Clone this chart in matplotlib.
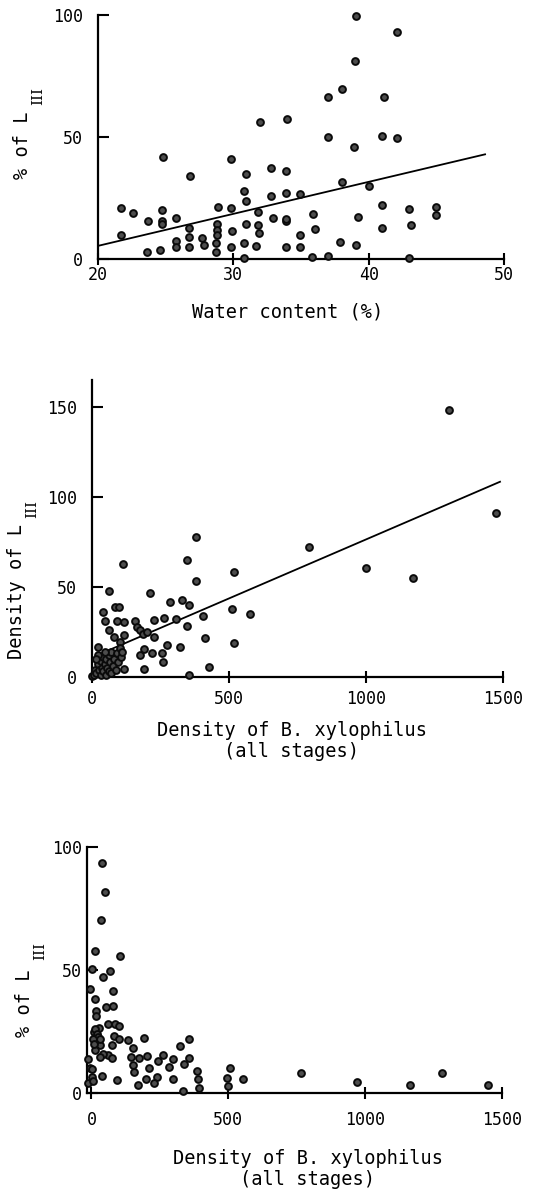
import matplotlib
matplotlib.use("Agg")
import matplotlib.pyplot as plt

plt.rcParams['font.family'] = ['DejaVu Sans Mono', 'DejaVu Sans']

# ---------------- Panel 1: water content vs % of L_III ----------------
water_content = [
    39.1, 42.1, 39.0, 38.0, 37.0, 41.1,
    32.0, 34.0, 37.0, 41.0, 42.1, 38.9,
    24.8, 29.8, 26.8, 30.9, 32.8, 33.9,
    38.0, 40.0, 30.8, 32.8, 33.9, 34.9,
    30.9, 21.7, 22.6, 23.7, 24.7, 24.7,
    24.7, 25.8, 26.7, 26.7, 26.7, 25.8,
    25.8, 23.6, 24.6, 21.7, 27.7, 27.8,
    28.9, 28.8, 28.8, 28.8, 28.7, 28.7,
    29.8, 29.9, 29.8, 30.9, 30.8, 30.8,
    31.8, 31.8, 31.9, 31.7, 32.9, 33.9,
    33.9, 33.9, 34.9, 34.9, 35.9, 36.0,
    35.8, 37.0, 37.9, 39.1, 39.2, 41.0,
    41.0, 43.0, 43.1, 43.0, 45.0, 45.0,
]
pct_L3_water = [
    99.7, 93.2, 81.2, 69.6, 66.6, 66.4,
    56.2, 57.3, 49.9, 50.5, 49.5, 45.8,
    42.0, 41.2, 34.1, 34.9, 37.4, 36.3,
    31.8, 30.2, 27.8, 25.8, 27.3, 26.7,
    23.7, 21.1, 19.0, 15.7, 20.3, 15.7,
    14.5, 17.1, 12.7, 9.3, 5.0, 7.5,
    5.0, 3.1, 4.0, 10.0, 8.9, 5.9,
    21.4, 14.5, 12.0, 9.8, 6.5, 3.1,
    21.1, 11.5, 5.2, 14.5, 6.7, 0.7,
    19.2, 13.9, 10.6, 5.6, 16.9, 15.7,
    16.5, 5.0, 9.8, 4.9, 18.4, 12.6,
    1.1, 1.5, 7.0, 5.9, 17.5, 22.2,
    13.0, 20.6, 13.9, 0.7, 21.3, 18.0,
]
fit1_x = [20.0, 48.6]
fit1_intercept, fit1_slope = -20.7, 1.31

# ---------------- Panel 2: density of B. xylophilus vs density of L_III ----------------
density_all = [
    1302, 1472, 792, 998, 1172, 517,
    377, 344, 377, 113, 62, 210,
    40, 47, 84, 97, 62, 80,
    89, 116, 116, 101, 22, 282,
    326, 352, 262, 305, 224, 347,
    405, 511, 577, 411, 518, 426,
    320, 271, 254, 257, 219, 189,
    173, 226, 157, 162, 174, 186,
    198, 189, 114, 352, 0,
    5, 10, 15, 20, 25, 30, 30, 35, 40, 40,
    45, 50, 50, 55, 60, 60, 65, 70, 70, 75,
    80, 85, 90, 95, 100, 105, 20, 45, 110, 15,
]
density_L3 = [
    148.1, 91.1, 72.0, 60.7, 54.8, 58.1,
    77.6, 65.0, 53.1, 62.6, 47.7, 46.8,
    36.2, 31.0, 39.0, 39.0, 26.2, 22.3,
    30.8, 30.3, 23.4, 19.5, 16.3, 41.6,
    42.9, 40.1, 32.9, 32.1, 31.7, 28.4,
    34.0, 37.7, 35.1, 21.3, 18.9, 5.6,
    16.3, 17.4, 13.2, 8.4, 13.0, 15.6,
    11.9, 21.9, 30.8, 27.8, 26.0, 23.8,
    25.1, 4.3, 4.1, 0.7, 0.5,
    1, 4, 2, 7, 4, 1, 9, 5, 3, 11,
    7, 1, 10, 5, 3, 12, 8, 2, 14, 6,
    10, 4, 13, 8, 16, 11, 12, 14, 14, 10,
]
fit2_x = [20, 1488]
fit2_intercept, fit2_slope = 10.8, 0.0656

# ---------------- Panel 3: density of B. xylophilus vs % of L_III ----------------
density_all_3 = [
    37, 51, 35, 12, 106, 1,
    42, 68, -5, 79, 12, 53,
    80, 18, 18, 62, 86, 102,
    28, 84, 100, 132, 74, 33,
    12, 193, 152, 145, 175, 151,
    157, 204, 260, 242, 210, 199,
    240, 230, 169, 298, 285, 298,
    324, 357, 358, 340, 334, 387,
    388, 392, 505, 494, 500, 553,
    766, 972, 1165, 1281, 1451, 92,
    37, -11, 62, 44, 31, 74,
    8, 14, 20, 25, 5, 10,
    -11, -5, 2, 7, 1, 31,
]
pct_L3_density = [
    93.5, 81.6, 70.2, 57.9, 55.8, 50.4,
    47.2, 49.7, 42.3, 41.6, 38.2, 35.1,
    35.4, 33.3, 31.4, 28.0, 27.9, 27.2,
    26.3, 23.4, 22.0, 21.8, 19.4, 19.4,
    17.6, 22.6, 18.2, 14.9, 14.5, 11.5,
    8.5, 15.2, 15.6, 12.9, 10.4, 5.8,
    6.8, 4.3, 3.4, 13.8, 10.8, 5.7,
    19.2, 22.2, 14.2, 11.8, 1.1, 9.1,
    5.8, 2.3, 10.3, 6.1, 3.1, 5.6,
    8.4, 4.6, 3.4, 8.4, 3.4, 5.4,
    7.0, 4.1, 15.6, 16.0, 14.9, 14.2,
    25, 26, 24, 23, 22, 20,
    13.8, 10.2, 6.8, 5.1, 9.7, 22,
]

W, H = 543, 1192
fig = plt.figure(figsize=(W / 100, H / 100), dpi=100)


def fr(left, top, right, bottom):
    return [left / W, 1 - bottom / H, (right - left) / W, (bottom - top) / H]


ax1 = fig.add_axes(fr(98, 15, 504, 259.3))
ax2 = fig.add_axes(fr(92.3, 380, 503.3, 676.7))
ax3 = fig.add_axes(fr(87.3, 846.7, 501.7, 1093.3))

mk = dict(s=24, facecolor='#4d4d4d', edgecolor='#0a0a0a', linewidths=1.4,
          clip_on=False, zorder=3)

ax1.scatter(water_content, pct_L3_water, **mk)
ax1.plot(fit1_x, [fit1_intercept + fit1_slope * v for v in fit1_x],
         color='black', lw=1.3, zorder=2)
ax1.set_xlim(20, 50)
ax1.set_ylim(0, 100)
ax1.set_xticks([20, 30, 40, 50])
ax1.set_yticks([0, 50, 100])

ax2.scatter(density_all, density_L3, **mk)
ax2.plot(fit2_x, [fit2_intercept + fit2_slope * v for v in fit2_x],
         color='black', lw=1.3, zorder=2)
ax2.set_xlim(0, 1500)
ax2.set_ylim(0, 165)
ax2.set_xticks([0, 500, 1000, 1500])
ax2.set_yticks([0, 50, 100, 150])

ax3.scatter(density_all_3, pct_L3_density, **mk)
ax3.set_xlim(-15, 1500)
ax3.set_ylim(0, 100)
ax3.set_xticks([0, 500, 1000, 1500])
ax3.set_yticks([0, 50, 100])

for ax, ypad, xpad in [(ax1, 11, 0), (ax2, 11, 5), (ax3, 4, 8.5)]:
    for s in ['top', 'right']:
        ax.spines[s].set_visible(False)
    for s in ['left', 'bottom']:
        ax.spines[s].set_linewidth(1.6)
    ax.tick_params(axis='y', direction='in', length=8, width=1.5,
                   labelsize=12, pad=ypad)
    ax.tick_params(axis='x', direction='inout', length=9, width=1.5,
                   labelsize=12, pad=xpad)

lab = dict(fontsize=13.4, ha='center', va='center')
fig.text(288 / W, 1 - 312 / H, 'Water content (%)', **lab)
fig.text(292 / W, 1 - 741 / H, 'Density of B. xylophilus\n(all stages)',
         multialignment='center', linespacing=1.15, **lab)
fig.text(308 / W, 1 - 1169 / H, 'Density of B. xylophilus\n(all stages)',
         multialignment='center', linespacing=1.15, **lab)

sub = dict(fontsize=11, ha='center', va='center', rotation=90,
           family='DejaVu Serif')
# y-axis labels: main text plus larger serif subscript "III"
fig.text(23 / W, 1 - 145 / H, '% of L', rotation=90, **lab)
fig.text(38 / W, 1 - 96 / H, 'III', **sub)
fig.text(17 / W, 1 - 592 / H, 'Density of L', rotation=90, **lab)
fig.text(32 / W, 1 - 509 / H, 'III', **sub)
fig.text(25 / W, 1 - 1003 / H, '% of L', rotation=90, **lab)
fig.text(40 / W, 1 - 951 / H, 'III', **sub)

fig.savefig('out.png', dpi=100, facecolor='white')
